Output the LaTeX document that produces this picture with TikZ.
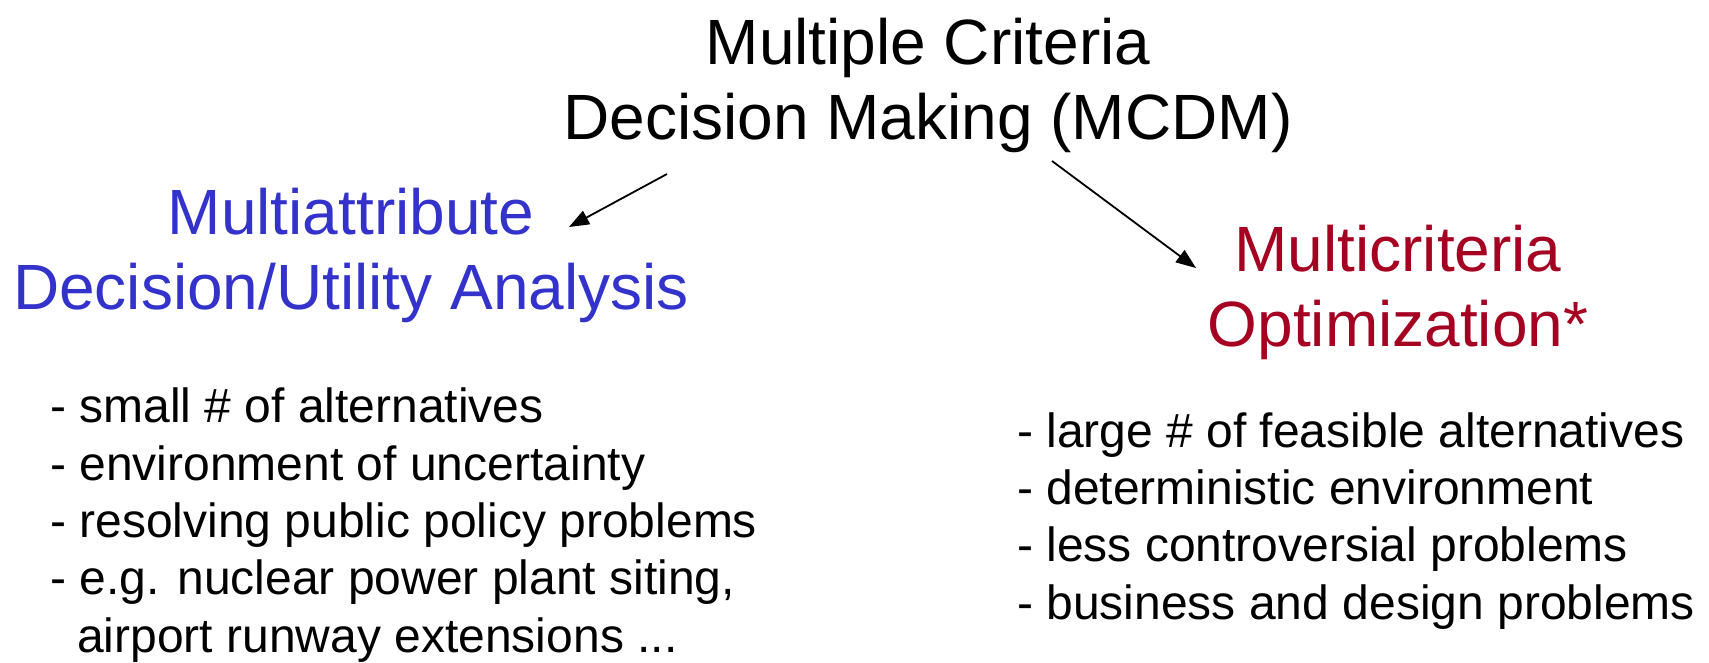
\documentclass[tikz,border=0pt]{standalone}
\usepackage{fontspec}
\setmainfont{Liberation Sans}
\usetikzlibrary{arrows.meta}
\definecolor{mablue}{RGB}{51,51,204}
\definecolor{mored}{RGB}{165,0,33}
\tikzset{
  head/.style={inner sep=0pt, align=center, anchor=base, font=\fontsize{64}{75}\selectfont},
  listtext/.style={inner sep=0pt, align=left, anchor=base west, font=\fontsize{48}{57.3}\selectfont},
  conn/.style={line width=1.8pt, -{Triangle[length=20pt,width=15pt]}}
}
\begin{document}
\begin{tikzpicture}[x=1pt,y=-1pt]
\useasboundingbox (0,0) rectangle (1709,662);
\node[head] (mcdm) at (928,139) {Multiple Criteria\\Decision Making (MCDM)};
\node[head, text=mablue] (maut) at (351,309.5) {Multiattribute\\Decision/Utility Analysis};
\node[head, text=mored] (mco) at (1398,346.5) {Multicriteria\\Optimization*};
\node[listtext] (left) at (50,652) {- small \# of alternatives\\- environment of uncertainty\\- resolving public policy problems\\- e.g. nuclear power plant siting,\\\hspace{27pt}airport runway extensions ...};
\node[listtext] (right) at (1017,619) {- large \# of feasible alternatives\\- deterministic environment\\- less controversial problems\\- business and design problems};
\coordinate (a1s) at (667,174);
\coordinate (a1e) at (569,227);
\coordinate (a2s) at (1052,161);
\coordinate (a2e) at (1196,268);
\draw[conn] (a1s) -- (a1e);
\draw[conn] (a2s) -- (a2e);
\end{tikzpicture}
\end{document}
